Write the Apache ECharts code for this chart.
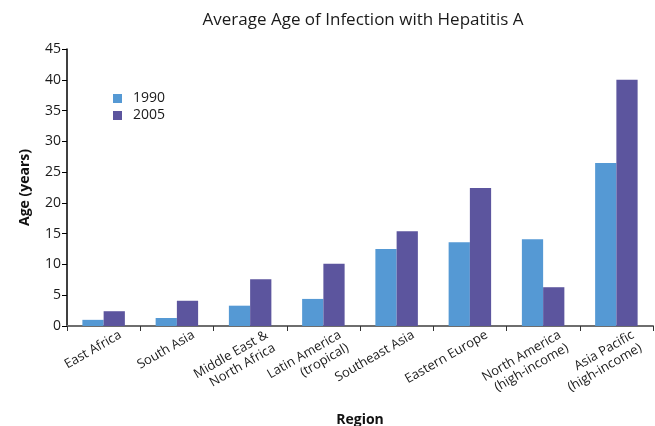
<!DOCTYPE html>
<html>
<head>
<meta charset="utf-8">
<script src="https://cdn.jsdelivr.net/npm/echarts@6/dist/echarts.min.js"></script>
<style>
  html, body { margin: 0; padding: 0; background: #fff; }
  #chart { width: 655px; height: 426px; }
</style>
</head>
<body>
<div id="chart"></div>
<script>
// Average age of hepatitis A infection by region, 1990 vs 2005
const regions = [
  'East Africa',
  'South Asia',
  'Middle East &\nNorth Africa',
  'Latin America\n(tropical)',
  'Southeast Asia',
  'Eastern Europe',
  'North America\n(high-income)',
  'Asia Pacific\n(high-income)'
];
const age1990 = [1.0, 1.3, 3.3, 4.4, 12.5, 13.6, 14.1, 26.5];
const age2005 = [2.4, 4.1, 7.6, 10.1, 15.4, 22.4, 6.3, 40.0];
const seriesNames = ['1990', '2005'];

const FONT = '"Open Sans", "Noto Sans", sans-serif';

const chart = echarts.init(document.getElementById('chart'), null, { renderer: 'canvas' });
chart.setOption({
  animation: false,
  backgroundColor: '#ffffff',
  textStyle: { fontFamily: FONT },
  title: {
    text: 'Average Age of Infection with Hepatitis A',
    left: 358,
    top: 7,
    textAlign: 'center',
    textStyle: { fontFamily: FONT, fontSize: 17, fontWeight: 'normal', color: '#1a1a1a' }
  },
  legend: {
    orient: 'vertical',
    left: 108,
    top: 85,
    itemWidth: 9,
    itemHeight: 9,
    itemGap: 0,
    icon: 'rect',
    textStyle: { fontFamily: FONT, fontSize: 14, lineHeight: 17, color: '#1a1a1a', padding: [0, 0, 0, 6] },
    data: seriesNames
  },
  grid: { left: 67, right: 2, top: 49, bottom: 100, containLabel: false, outerBoundsMode: 'none' },
  xAxis: {
    type: 'category',
    data: regions,
    name: 'Region',
    nameLocation: 'middle',
    nameGap: 87,
    nameTextStyle: { fontFamily: FONT, fontSize: 14, fontWeight: 'bold', color: '#111' },
    axisLine: { lineStyle: { color: '#6e6e6e', width: 2 } },
    axisTick: { show: true, length: 5, alignWithLabel: false, lineStyle: { color: '#333', width: 1 } },
    axisLabel: {
      interval: 0,
      rotate: 30,
      align: 'right',
      verticalAlign: 'top',
      margin: 9,
      padding: [0, -15, 0, 0],
      fontFamily: FONT,
      fontSize: 13,
      lineHeight: 15,
      color: '#1a1a1a'
    }
  },
  yAxis: {
    type: 'value',
    min: 0,
    max: 45,
    interval: 5,
    name: 'Age (years)',
    nameLocation: 'middle',
    nameGap: 35,
    nameRotate: 90,
    nameTextStyle: { fontFamily: FONT, fontSize: 14, fontWeight: 'bold', color: '#111' },
    axisLine: { show: true, lineStyle: { color: '#000', width: 1.5 } },
    axisTick: { show: true, length: 5, lineStyle: { color: '#000', width: 1 } },
    axisLabel: { fontFamily: FONT, fontSize: 14, color: '#1a1a1a', margin: 6 },
    splitLine: { show: false }
  },
  series: [
    {
      name: seriesNames[0],
      type: 'bar',
      data: age1990,
      barGap: '0%',
      barCategoryGap: '42%',
      itemStyle: { color: '#5599d4' }
    },
    {
      name: seriesNames[1],
      type: 'bar',
      data: age2005,
      barGap: '0%',
      barCategoryGap: '42%',
      itemStyle: { color: '#5c559e' }
    }
  ]
});
</script>
</body>
</html>
